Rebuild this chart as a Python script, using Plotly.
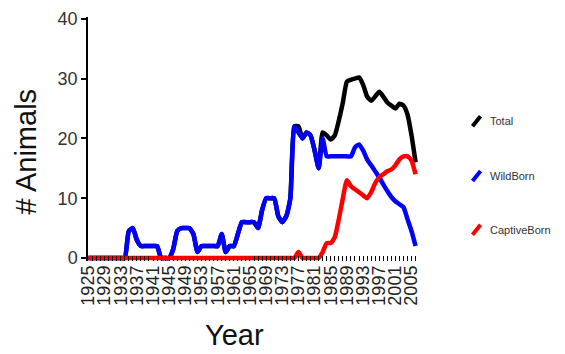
import plotly.graph_objects as go

years = list(range(1925, 2007))

wild_born = [
    0, 0, 0, 0, 0, 0, 0, 0, 0,            # 1925-1933
    0, 4.5, 5, 3, 2, 2, 2, 2, 2, 0,       # 1934-1943
    0, 0, 1.5, 4.5, 5, 5, 5, 4, 1, 2,     # 1944-1953
    2, 2, 2, 2, 4, 1, 2, 2, 4, 6,         # 1954-1963
    6, 6, 6, 5, 8, 10, 10, 10, 7, 6,      # 1964-1973
    7, 10, 22, 21, 20, 21, 20.5, 18, 15, 20,  # 1974-1983
    17, 17, 17, 17, 17, 17, 17,           # 1984-1990
    18.5, 19, 18, 16.5, 15.5, 14.5, 13.5, 12.3, 11.2, 10.2,  # 1991-2000
    9.5, 9, 8.5, 6.5, 4.5, 2,             # 2001-2006
]

captive_born = [0] * 52 + [            # 1925-1976
    1, 0, 0, 0, 0, 0,                   # 1977-1982
    1, 2.5, 2.5, 3.5, 6.5, 10, 13, 12, 11.5, 11,   # 1983-1992
    10.5, 10, 11, 12.5, 13.5, 14, 14.5, 14.8, 15.5, 16.5,  # 1993-2002
    17, 17, 16.3, 14,                   # 2003-2006
]

total = [
    0, 0, 0, 0, 0, 0, 0, 0, 0,            # 1925-1933
    0, 4.5, 5, 3, 2, 2, 2, 2, 2, 0,       # 1934-1943
    0, 0, 1.5, 4.5, 5, 5, 5, 4, 1, 2,     # 1944-1953
    2, 2, 2, 2, 4, 1, 2, 2, 4, 6,         # 1954-1963
    6, 6, 6, 5, 8, 10, 10, 10, 7, 6,      # 1964-1973
    7, 10, 22, 22, 20, 21, 20.5, 18, 15, 21,  # 1974-1983
    20.5, 19.8, 20.5, 23, 26, 29.5, 29.8,  # 1984-1990
    30, 30.2, 29, 27, 26.3, 27, 27.8, 27, 26, 25.5,  # 1991-2000
    25, 25.8, 25.5, 24, 20.5, 16,         # 2001-2006
]

series_names = ["Total", "WildBorn", "CaptiveBorn"]
series_colors = ["#000000", "#0000ff", "#ff0000"]
series_values = [total, wild_born, captive_born]

FONT = "Liberation Sans, Arial, sans-serif"

W, H = 565, 354
L, R, T, B = 88.3, 417.6, 16.5, 261.3

fig = go.Figure()
for name, color, vals in zip(series_names, series_colors, series_values):
    fig.add_trace(go.Scatter(
        x=years, y=vals, mode="lines", name=name,
        line=dict(color=color, width=4.5, shape="spline", smoothing=0.5),
        showlegend=False,
    ))


def px_to_paper(px, py):
    return (px - L) / (R - L), (B - py) / (B - T)


# custom legend (diagonal glyphs + labels)
legend_y = [121, 176, 230]
shapes = []
annotations = []
for name, color, cy in zip(series_names, series_colors, legend_y):
    x0, y0 = px_to_paper(472, cy + 5)
    x1, y1 = px_to_paper(480, cy - 5)
    shapes.append(dict(type="line", xref="paper", yref="paper",
                       x0=x0, y0=y0, x1=x1, y1=y1,
                       line=dict(color=color, width=4)))
    tx, ty = px_to_paper(487, cy)
    annotations.append(dict(xref="paper", yref="paper", x=tx, y=ty,
                            text=name, showarrow=False, xanchor="left",
                            yanchor="middle",
                            font=dict(family=FONT, size=11, color="#333333")))

ax, ay = px_to_paper(234, 336)
annotations.append(dict(xref="paper", yref="paper", x=ax, y=ay, text="Year",
                        showarrow=False, xanchor="center", yanchor="middle",
                        font=dict(family=FONT, size=29, color="#111111")))
ax, ay = px_to_paper(26, 152)
annotations.append(dict(xref="paper", yref="paper", x=ax, y=ay, text="# Animals",
                        showarrow=False, xanchor="center", yanchor="middle",
                        textangle=-90,
                        font=dict(family=FONT, size=29, color="#111111")))

fig.update_layout(
    width=W, height=H,
    margin=dict(l=L, r=W - R, t=T, b=H - B, pad=0, autoexpand=False),
    paper_bgcolor="white", plot_bgcolor="white",
    shapes=shapes, annotations=annotations,
    font=dict(family=FONT, color="#222222"),
)

fig.update_xaxes(
    range=[1924.9, 2006.6], automargin=False,
    tickmode="linear", tick0=1925, dtick=4,
    ticks="inside", ticklen=5, tickwidth=1, tickcolor="black",
    minor=dict(dtick=1, tick0=1925, ticks="inside", ticklen=5,
               tickwidth=1, tickcolor="black", showgrid=False),
    tickangle=-90, tickfont=dict(family=FONT, size=18, color="#222222"),
    showgrid=False, zeroline=False, showline=False,
    layer="above traces",
)
fig.update_yaxes(
    range=[-0.5, 40.3], automargin=False,
    tickmode="array", tickvals=[0, 10, 20, 30, 40],
    ticks="outside", ticklen=5, tickwidth=1.5, tickcolor="black",
    tickfont=dict(family=FONT, size=18, color="#333333"),
    showgrid=False, zeroline=False,
    showline=True, linecolor="black", linewidth=1.5,
)

fig.write_html(
    "out.html",
    config={"displayModeBar": False},
    post_script="document.body.style.margin='0';document.body.style.overflow='hidden';",
)
